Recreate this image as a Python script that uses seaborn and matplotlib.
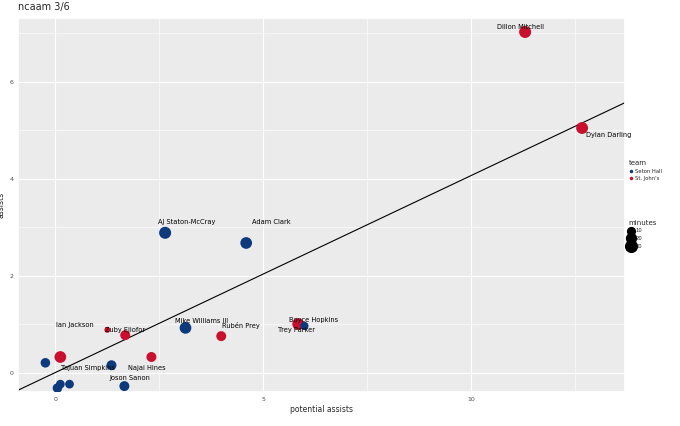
import matplotlib
matplotlib.use("Agg")
import matplotlib.pyplot as plt
import numpy as np
import pandas as pd
import seaborn as sns
from matplotlib.lines import Line2D

# Data
players = ["Dillon Mitchell", "Dylan Darling", "AJ Staton-McCray", "Adam Clark",
           "Mike Williams III", "Rubén Prey", "Boyce Hopkins", "Trey Parker",
           "Ian Jackson", "Zuby Ejiofor", "", "", "Tajuan Simpkins", "Najai Hines",
           "Joson Sanon", "", "", ""]
potential_assists = [11.3, 12.67, 2.64, 4.59, 3.13, 3.99, 5.84, 5.99,
                     0.12, 1.25, 1.68, -0.24, 1.35, 2.31, 1.66, 0.12, 0.05, 0.34]
assists = [7.03, 5.05, 2.89, 2.68, 0.93, 0.76, 1.01, 0.97,
           0.33, 0.89, 0.78, 0.21, 0.16, 0.33, -0.27, -0.23, -0.31, -0.23]
team = ["St. John's", "St. John's", "Seton Hall", "Seton Hall", "Seton Hall", "St. John's",
        "St. John's", "Seton Hall", "St. John's", "St. John's", "St. John's", "Seton Hall",
        "Seton Hall", "St. John's", "Seton Hall", "Seton Hall", "Seton Hall", "Seton Hall"]
minutes = [32, 31, 32, 30, 30, 20, 30, 12, 30, 3, 20, 18, 20, 20, 20, 14, 18, 14]
# ggrepel-like label positions
label_x = [11.18, 13.3, 3.17, 5.19, 3.51, 4.47, 6.2, 5.79, 0.48, 1.68, None, None, 0.79, 2.19, 1.8, None, None, None]
label_y = [7.13, 4.9, 3.11, 3.11, 1.08, 0.98, 1.09, 0.89, 0.98, 0.89, None, None, 0.1, 0.1, -0.1, None, None, None]
# fitted line as drawn in the reference
fit_slope = 0.406
fit_intercept = 0.01

df = pd.DataFrame({"player": players, "pa": potential_assists, "ast": assists,
                   "team": team, "minutes": minutes})
palette = {"Seton Hall": "#0C3A7D", "St. John's": "#C8102E"}

sns.set_theme(style="darkgrid", rc={"axes.facecolor": "#EBEBEB", "grid.color": "white",
                                    "grid.linewidth": 0.8})
plt.rcParams["font.family"] = ["DejaVu Sans"]

fig, ax = plt.subplots(figsize=(6.8, 4.26), dpi=100)
fig.subplots_adjust(left=0.027, right=0.919, top=0.958, bottom=0.08)

sns.scatterplot(data=df, x="pa", y="ast", hue="team", size="minutes", palette=palette,
                sizes=(12, 75), size_norm=(0, 32), legend=False, linewidth=0, ax=ax, zorder=3)

xs = np.array([-1.0, 14.0])
ax.plot(xs, fit_intercept + fit_slope * xs, color="black", lw=0.8, zorder=2)

for name, lx, ly in zip(players, label_x, label_y):
    if name and lx is not None:
        ax.text(lx, ly, name, fontsize=4.8, ha="center", va="center", color="black", zorder=4)

ax.set_xlim(-0.89, 13.7)
ax.set_ylim(-0.39, 7.32)
ax.set_xticks([0, 5, 10])
ax.set_yticks([0, 2, 4, 6])
ax.set_xticks([2.5, 7.5, 12.5], minor=True)
ax.set_yticks([1, 3, 5, 7], minor=True)
ax.grid(which="minor", color="white", lw=0.4)
ax.tick_params(labelsize=4.5, colors="#4D4D4D", length=2, width=0.5, pad=1.5)
ax.set_xlabel("potential assists", fontsize=5.5, labelpad=2)
ax.set_ylabel("assists", fontsize=5.5, labelpad=2)
ax.set_title("ncaam 3/6", fontsize=7, loc="left")

team_handles = [Line2D([], [], marker="o", ls="", color=c, markersize=1.5, label=t)
                for t, c in palette.items()]
leg1 = ax.legend(handles=team_handles, title="team", loc="upper left",
                 bbox_to_anchor=(1.0, 0.63), frameon=False, fontsize=3.8,
                 title_fontsize=5, alignment="left", handletextpad=0.3,
                 handlelength=1, borderaxespad=0.3)
ax.add_artist(leg1)
size_handles = [Line2D([], [], marker="o", ls="", color="black",
                       markersize=np.sqrt(12 + (75 - 12) * m / 32), label=str(m))
                for m in [10, 20, 30]]
ax.legend(handles=size_handles, title="minutes", loc="upper left",
          bbox_to_anchor=(1.0, 0.47), frameon=False, fontsize=3.8,
          title_fontsize=5, alignment="left", handletextpad=0.3,
          handlelength=1, borderaxespad=0.3)

fig.savefig("out.png", dpi=100)
